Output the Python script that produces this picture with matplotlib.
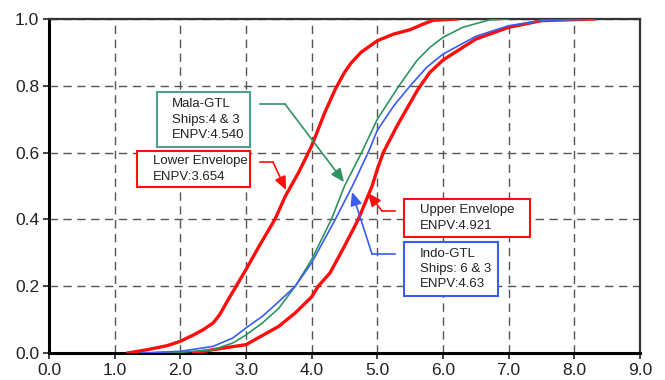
import matplotlib
matplotlib.use("Agg")
import matplotlib.pyplot as plt
from matplotlib.patches import Rectangle

plt.rcParams['font.family'] = ['Liberation Sans', 'DejaVu Sans']

# Cumulative probability curves (x = ENPV, y = cumulative probability)
lower_x = [1.2, 1.5, 1.8, 2.0, 2.2, 2.35, 2.5, 2.6, 2.7, 2.85, 3.0, 3.2, 3.44, 3.6, 3.8, 4.0, 4.2, 4.36, 4.5, 4.6, 4.75, 5.0, 5.25, 5.5, 5.7, 5.85, 6.2]
lower_y = [0.0, 0.01, 0.022, 0.035, 0.054, 0.07, 0.09, 0.115, 0.15, 0.2, 0.25, 0.32, 0.4, 0.47, 0.54, 0.62, 0.72, 0.79, 0.84, 0.868, 0.9, 0.935, 0.955, 0.968, 0.985, 0.996, 1.0]

mala_x = [1.4, 2.0, 2.5, 2.8, 3.0, 3.25, 3.5, 3.75, 4.0, 4.3, 4.5, 4.76, 5.0, 5.33, 5.6, 5.8, 6.0, 6.3, 6.7, 7.0]
mala_y = [0.0, 0.002, 0.01, 0.03, 0.054, 0.09, 0.134, 0.2, 0.28, 0.4, 0.5, 0.6, 0.7, 0.8, 0.875, 0.915, 0.945, 0.975, 0.997, 1.0]

indo_x = [1.4, 2.0, 2.5, 2.8, 3.0, 3.25, 3.5, 3.75, 4.0, 4.36, 4.62, 4.86, 5.0, 5.25, 5.5, 5.75, 6.0, 6.5, 7.0, 7.5, 8.3]
indo_y = [0.0, 0.005, 0.02, 0.045, 0.075, 0.11, 0.154, 0.2, 0.27, 0.4, 0.5, 0.6, 0.667, 0.74, 0.8, 0.855, 0.895, 0.948, 0.98, 0.995, 1.0]

upper_x = [2.2, 2.5, 3.0, 3.5, 3.75, 4.0, 4.1, 4.28, 4.5, 4.71, 4.92, 5.0, 5.09, 5.3, 5.62, 5.8, 6.0, 6.5, 7.0, 7.5, 8.3]
upper_y = [0.0, 0.01, 0.025, 0.08, 0.12, 0.168, 0.2, 0.24, 0.32, 0.4, 0.5, 0.55, 0.6, 0.68, 0.79, 0.84, 0.877, 0.94, 0.975, 0.995, 1.0]

x_ticks = [0.0, 1.0, 2.0, 3.0, 4.0, 5.0, 6.0, 7.0, 8.0, 9.0]
y_ticks = [0.0, 0.2, 0.4, 0.6, 0.8, 1.0]

RED = '#ff0d0d'
GREEN = '#2f9462'
BLUE = '#3a5cf0'
TEAL = '#4aa08a'

fig = plt.figure(figsize=(6.65, 3.8), dpi=100)
ax = fig.add_axes([49/665, 27/380, 591/665, 334/380])

ax.plot(lower_x, lower_y, color=RED, lw=2.4, zorder=4, solid_joinstyle='round')
ax.plot(upper_x, upper_y, color=RED, lw=2.4, zorder=4, solid_joinstyle='round')
ax.plot(mala_x, mala_y, color=GREEN, lw=1.2, zorder=4)
ax.plot(indo_x, indo_y, color=BLUE, lw=1.2, zorder=4)

ax.set_xlim(0, 9)
ax.set_ylim(0, 1)
ax.set_xticks(x_ticks)
ax.set_yticks(y_ticks)
ax.set_xticklabels([f"{v:.1f}" for v in x_ticks])
ax.set_yticklabels([f"{v:.1f}" for v in y_ticks])
ax.tick_params(labelsize=12.5, length=4, width=1.2, colors='#222222', pad=3)
ax.grid(True, color='#555555', ls=(0, (6, 4)), lw=1.0)
for s in ['left', 'bottom']:
    ax.spines[s].set_linewidth(2.2)
    ax.spines[s].set_color('black')
for s in ['top', 'right']:
    ax.spines[s].set_linewidth(1.6)
    ax.spines[s].set_color('#333333')

def px2d(px, py):
    return ((px - 49) / (591 / 9), (353 - py) / 334)

def box(x0, y0, x1, y1, color, tx, text):
    (dx0, dy0), (dx1, dy1) = px2d(x0, y0), px2d(x1, y1)
    r = Rectangle((dx0, dy1), dx1 - dx0, dy0 - dy1, facecolor='white',
                  edgecolor=color, lw=1.5, zorder=6)
    ax.add_patch(r)
    tdx, _ = px2d(tx, 0)
    ax.text(tdx, (dy0 + dy1) / 2, text, ha='left', va='center', fontsize=9.5,
            linespacing=1.35, color='#222222', zorder=7)

def arrow(start, bend, tip, color):
    s, b, t = px2d(*start), px2d(*bend), px2d(*tip)
    ax.plot([s[0], b[0]], [s[1], b[1]], color=color, lw=1.2, zorder=5)
    ax.annotate('', xy=t, xytext=b,
                arrowprops=dict(arrowstyle='-|>,head_length=0.8,head_width=0.35',
                                color=color, lw=1.2, shrinkA=0, shrinkB=0),
                zorder=5)

box(157, 92, 250, 147, TEAL, 172, "Mala-GTL\nShips:4 & 3\nENPV:4.540")
box(137, 151, 250, 187, RED, 153, "Lower Envelope\nENPV:3.654")
box(404, 199, 530, 237, RED, 420, "Upper Envelope\nENPV:4.921")
box(404, 242, 498, 296, BLUE, 420, "Indo-GTL\nShips: 6 & 3\nENPV:4.63")

arrow((260, 104), (285, 104), (344, 182), GREEN)
arrow((260, 162), (273, 162), (286, 190), RED)
arrow((395, 211), (382, 211), (368, 193), RED)
arrow((395, 254), (372, 254), (352, 192), BLUE)

fig.savefig('out.png', dpi=100)
